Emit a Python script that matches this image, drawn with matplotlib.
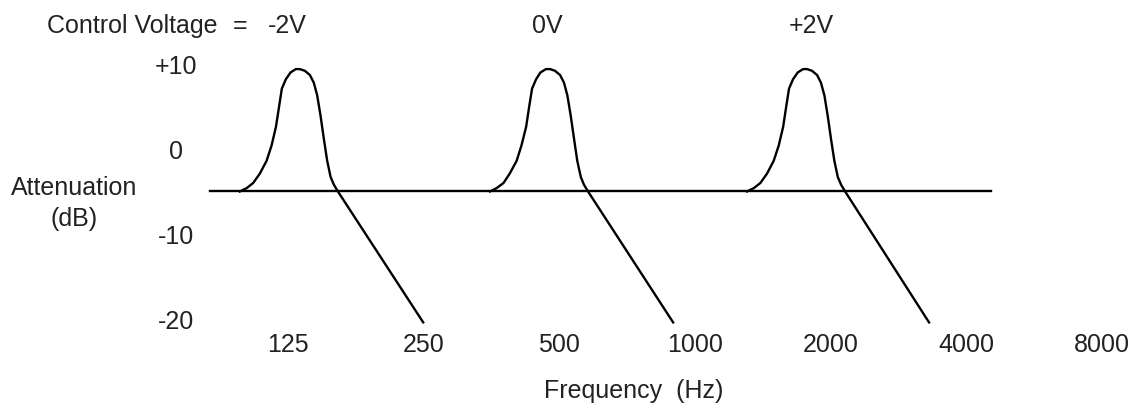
import numpy as np
import matplotlib
matplotlib.use("Agg")
from matplotlib import pyplot as plt

plt.rcParams['font.family'] = ['Liberation Sans', 'DejaVu Sans']

#------------------------------------------------------------
# values
freq_ticks = [125, 250, 500, 1000, 2000, 4000, 8000]
freq_labels = ['125', '250', '500', '1000', '2000', '4000', '8000']
db_ticks = [10, 0, -10, -20]
db_labels = ['+10', '0', '-10', '-20']
voltages = ['-2V', '0V', '+2V']

# flat reference line (Hz, dB)
base_freq = [83.9, 4531]
base_db = [-5.0, -5.0]

# response shape: levels shared by the three curves, in dB
level_db = [-5.0, -4.6, -4.0, -2.9, -1.4, 0.4, 2.6, 5.1, 7.1, 8.2, 9.0,
            9.4, 9.4, 9.2, 8.7, 7.8, 6.3, 3.9, 1.2, -1.4, -3.3, -4.2,
            -5.0, -20.4]

# frequency of each level point, one list per control voltage
freq_m2v = [97.8, 101.3, 104.7, 108.3, 112.1, 115.0, 117.6, 119.6, 121.2,
            123.7, 126.7, 130.2, 132.9, 136.3, 139.9, 142.7, 145.2, 147.7,
            150.2, 152.8, 155.5, 158.1, 161.4, 249.5]
freq_0v = [351, 363, 376, 388, 402, 412, 422, 429, 435,
           444, 454, 467, 477, 489, 502, 512, 521, 530,
           539, 548, 558, 567, 579, 894]
freq_p2v = [1304, 1350, 1396, 1444, 1494, 1533, 1568, 1594, 1616,
            1649, 1689, 1736, 1772, 1817, 1865, 1902, 1936, 1969,
            2002, 2037, 2073, 2108, 2152, 3303]

#------------------------------------------------------------
W, H = 1134, 406
fig = plt.figure(figsize=(W / 100, H / 100), dpi=100)
ax = fig.add_axes([200 / W, (H - 325) / H, 934 / W, 285 / H])

ax.plot(base_freq, base_db, '-k', lw=1.7, clip_on=False)
for f in (freq_m2v, freq_0v, freq_p2v):
    ax.plot(f, level_db, '-k', lw=1.7, clip_on=False,
            solid_joinstyle='round')

ax.set_xscale('log', base=2)
ax.set_xlim(79.8, 9409)
ax.set_ylim(-20.59, 12.94)

ax.set_xticks(freq_ticks)
ax.set_xticklabels(freq_labels)
ax.minorticks_off()
ax.set_yticks(db_ticks)
ax.set_yticklabels(db_labels)
ax.tick_params(axis='x', length=0, pad=5.8, labelsize=18, colors='#222222')
ax.tick_params(axis='y', length=0, pad=17.3, labelsize=18, colors='#222222')
for lbl in ax.get_yticklabels():
    lbl.set_horizontalalignment('center')

for s in ax.spines.values():
    s.set_visible(False)

txt = dict(fontsize=18, color='#222222', va='baseline')
fig.text(47 / W, (H - 33) / H, 'Control Voltage', ha='left', **txt)
fig.text(240.5 / W, (H - 33) / H, '=', ha='center', **txt)
for v, x in zip(voltages, [287.5, 547.5, 811.5]):
    fig.text(x / W, (H - 33) / H, v, ha='center', **txt)

fig.text(74 / W, (H - 195) / H, 'Attenuation', ha='center', **txt)
fig.text(74 / W, (H - 226) / H, '(dB)', ha='center', **txt)
fig.text(634 / W, (H - 398) / H, 'Frequency  (Hz)', ha='center', **txt)

plt.savefig('out.png', dpi=100)
